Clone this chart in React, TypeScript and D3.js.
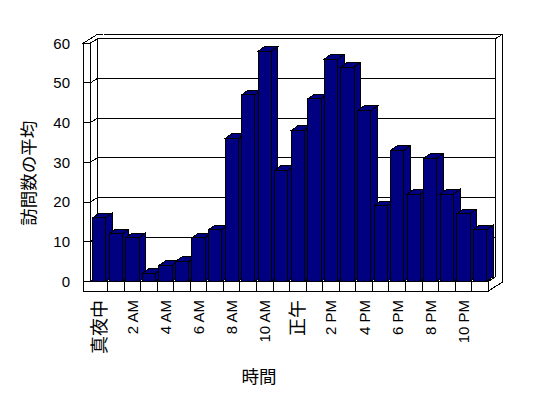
import React from 'react';
import * as d3 from 'd3';

const hours = ['0','1','2','3','4','5','6','7','8','9','10','11','12','13','14','15','16','17','18','19','20','21','22','23'];
const values = [16, 12, 11, 2, 4, 5, 11, 13, 36, 47, 58, 28, 38, 46, 56, 54, 43, 19, 33, 22, 31, 22, 17, 13];
const tickLabels = ['真夜中', '2 AM', '4 AM', '6 AM', '8 AM', '10 AM', '正午', '2 PM', '4 PM', '6 PM', '8 PM', '10 PM'];
const yTicks = [0, 10, 20, 30, 40, 50, 60];
const yTitle = '訪問数の平均';
const xTitle = '時間';

const W = 548;
const H = 398;
const LEFT = 90.3;
const RIGHT = 488.3;
const WALL = 7;
const DX = 7;
const DY = -4.4;
const FLOOR_BOTTOM = 291;
const BDX = 6.5;
const BDY = -4.7;
const BAR = '#000080';
const LATIN = '"Liberation Sans", Arial, sans-serif';
const CJK = '"Noto Sans CJK JP", sans-serif';

const pts = (a: number[][]) => a.map(p => p.join(',')).join(' ');

export default function App() {
  const x = d3.scaleBand<string>().domain(hours).range([91, RIGHT]).paddingInner(0.2).paddingOuter(0.1);
  const y = d3.scaleLinear().domain([0, 60]).range([281.4, 43.2]);
  const step = x.step();
  const bw = x.bandwidth();
  const y0 = y(0);
  const yTop = y(60);
  const r0 = x.range()[0];

  const isCjk = (s: string) => /[\u3040-\u9fff]/.test(s);

  return (
    <svg width={W} height={H} style={{ position: 'absolute', left: 0, top: 0, background: '#fff' }} shapeRendering="crispEdges">
      <rect x={0} y={0} width={W} height={H} fill="#fff" />
      {/* back wall inner face */}
      <polygon points={pts([[LEFT + DX, yTop + DY], [RIGHT + DX, yTop + DY], [RIGHT + DX, y0 + DY], [LEFT + DX, y0 + DY]])} fill="#fff" stroke="#000" />
      {/* back wall top face */}
      <polygon points={pts([[LEFT + DX, yTop + DY], [RIGHT + DX, yTop + DY], [RIGHT + 2 * DX, yTop + 2 * DY], [LEFT + 2 * DX, yTop + 2 * DY]])} fill="#fff" stroke="#000" />
      {/* back wall + floor right face */}
      <polygon points={pts([[RIGHT + DX, yTop + DY], [RIGHT + 2 * DX, yTop + 2 * DY], [RIGHT + 2 * DX, FLOOR_BOTTOM + 2 * DY], [RIGHT, FLOOR_BOTTOM], [RIGHT, y0], [RIGHT + DX, y0 + DY]])} fill="#fff" stroke="#000" />
      {/* left wall inner face */}
      <polygon points={pts([[LEFT, yTop], [LEFT + DX, yTop + DY], [LEFT + DX, y0 + DY], [LEFT, y0]])} fill="#fff" stroke="#000" />
      {/* left wall top face */}
      <polygon points={pts([[LEFT - WALL, yTop], [LEFT, yTop], [LEFT + DX, yTop + DY], [LEFT + 2 * DX, yTop + 2 * DY], [LEFT - WALL + 2 * DX, yTop + 2 * DY]])} fill="#fff" stroke="#000" />
      <line x1={LEFT + DX} y1={yTop + DY} x2={LEFT + 2 * DX} y2={yTop + 2 * DY} stroke="#fff" />
      {/* gridlines */}
      {yTicks.map(t => (
        <g key={t}>
          <line x1={LEFT + DX} x2={RIGHT + DX} y1={y(t) + DY} y2={y(t) + DY} stroke="#000" />
          <line x1={LEFT} y1={y(t)} x2={LEFT + DX} y2={y(t) + DY} stroke="#000" />
        </g>
      ))}
      {/* floor top face */}
      <polygon points={pts([[LEFT, y0], [LEFT + DX, y0 + DY], [RIGHT + DX, y0 + DY], [RIGHT, y0]])} fill="#fff" stroke="#000" />
      {/* left wall front + floor front */}
      <polygon points={pts([[LEFT - WALL, yTop], [LEFT, yTop], [LEFT, y0], [RIGHT, y0], [RIGHT, FLOOR_BOTTOM], [LEFT - WALL, FLOOR_BOTTOM]])} fill="#fff" stroke="#000" />
      {/* y ticks across wall front */}
      {yTicks.map(t => (
        <line key={'t' + t} x1={LEFT - WALL} x2={LEFT} y1={y(t)} y2={y(t)} stroke="#000" />
      ))}
      {/* category dividers on floor front */}
      {hours.slice(1).map((h, i) => {
        const bx = r0 + (i + 1) * step;
        return <line key={'d' + h} x1={bx} x2={bx} y1={y0} y2={FLOOR_BOTTOM} stroke="#000" />;
      })}
      {/* bars */}
      {hours.map((h, i) => {
        const bx = x(h) as number;
        const by = y(values[i]);
        return (
          <g key={'b' + h} stroke="#000" fill={BAR} strokeLinejoin="miter">
            <polygon points={pts([[bx + bw, by], [bx + bw + BDX, by + BDY], [bx + bw + BDX, y0 + BDY], [bx + bw, y0]])} />
            <polygon points={pts([[bx, by], [bx + bw, by], [bx + bw + BDX, by + BDY], [bx + BDX, by + BDY]])} />
            <rect x={bx} y={by} width={bw} height={y0 - by} />
          </g>
        );
      })}
      {/* y tick labels */}
      {yTicks.map(t => (
        <text key={'l' + t} x={70} y={y(t)} dy="0.36em" textAnchor="end" fontFamily={LATIN} fontSize={15} fill="#000">{t}</text>
      ))}
      {/* x tick labels */}
      {tickLabels.map((lab, i) => {
        const h = hours[i * 2];
        const cx = (x(h) as number) + bw / 2;
        const cjk = isCjk(lab);
        return (
          <text key={'x' + i} transform={`translate(${cx},300) rotate(-90)`} dy="0.36em" textAnchor="end"
            fontFamily={cjk ? CJK : LATIN} fontSize={cjk ? 18 : 15} fill="#000">{lab}</text>
        );
      })}
      {/* axis titles */}
      <text transform={`translate(29,${(y(0) + y(60)) / 2 + 11}) rotate(-90)`} dy="0.36em" textAnchor="middle" fontFamily={CJK} fontSize={17.5} fill="#000">{yTitle}</text>
      <text x={259} y={377} dy="0.36em" textAnchor="middle" fontFamily={CJK} fontSize={17.5} fill="#000">{xTitle}</text>
    </svg>
  );
}
